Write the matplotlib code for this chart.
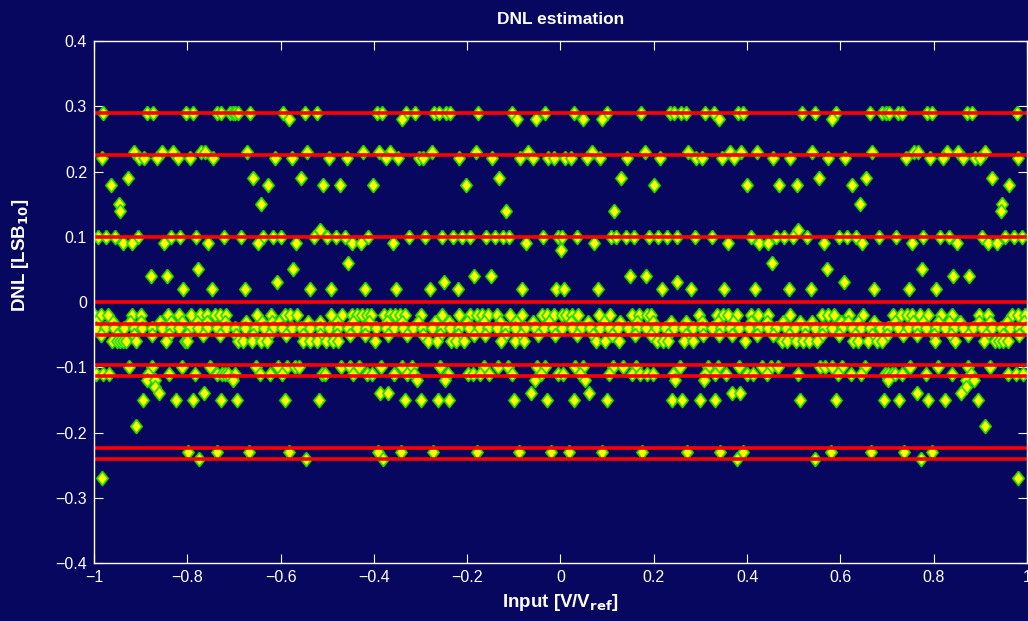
import numpy as np
import matplotlib.pyplot as plt

plt.rcParams['font.family'] = ['Liberation Sans', 'DejaVu Sans']

# x positions (V/Vref) of the codes, grouped by their estimated DNL (LSB10)
dnl_p29 = [-0.980, -0.886, -0.873, -0.802, -0.788, -0.737, -0.727, -0.709, -0.703, -0.698,
           -0.692, -0.666, -0.594, -0.548, -0.521, -0.394, -0.382, -0.332, -0.312, -0.271,
           -0.260, -0.246, -0.237, -0.176, -0.103, -0.033, 0.030, 0.100, 0.173, 0.235,
           0.244, 0.258, 0.269, 0.310, 0.329, 0.380, 0.392, 0.518, 0.546, 0.591, 0.663,
           0.690, 0.697, 0.704, 0.724, 0.733, 0.785, 0.797, 0.871, 0.883, 0.978]
dnl_p28 = [-0.583, -0.340, -0.093, -0.053, 0.049, 0.090, 0.339, 0.581]
dnl_p23 = [-0.914, -0.855, -0.830, -0.771, -0.761, -0.671, -0.543, -0.423, -0.388, -0.365,
           -0.276, -0.182, -0.069, 0.067, 0.181, 0.274, 0.363, 0.386, 0.421, 0.540, 0.668,
           0.758, 0.767, 0.828, 0.853, 0.911]
dnl_p22 = [-0.983, -0.903, -0.893, -0.864, -0.821, -0.794, -0.744, -0.612, -0.576, -0.497,
           -0.458, -0.374, -0.349, -0.303, -0.294, -0.217, -0.146, -0.087, -0.060, -0.026,
           -0.015, 0.010, 0.022, 0.057, 0.085, 0.143, 0.213, 0.290, 0.303, 0.347, 0.372,
           0.456, 0.492, 0.573, 0.610, 0.741, 0.792, 0.819, 0.863, 0.889, 0.899, 0.981]
dnl_p19 = [-0.928, -0.659, -0.557, -0.132, 0.130, 0.554, 0.655, 0.926]
dnl_p18 = [-0.964, -0.626, -0.510, -0.473, -0.401, -0.202, 0.200, 0.399, 0.469, 0.506,
           0.624, 0.962]
dnl_p15 = [-0.946, -0.643, 0.641, 0.946]
dnl_p14 = [-0.944, -0.116, 0.115, 0.944]
dnl_p11 = [-0.516, 0.510]
dnl_p10 = [-0.991, -0.974, -0.955, -0.905, -0.836, -0.816, -0.781, -0.721, -0.685, -0.637,
           -0.617, -0.599, -0.528, -0.501, -0.481, -0.463, -0.412, -0.325, -0.290, -0.253,
           -0.230, -0.212, -0.193, -0.159, -0.140, -0.123, -0.110, -0.038, -0.005, 0.003,
           0.036, 0.108, 0.120, 0.140, 0.158, 0.190, 0.210, 0.228, 0.250, 0.288, 0.324,
           0.408, 0.461, 0.479, 0.498, 0.528, 0.598, 0.615, 0.633, 0.683, 0.719, 0.778,
           0.813, 0.833, 0.904, 0.953, 0.972, 0.989]
dnl_p09 = [-0.937, -0.918, -0.851, -0.755, -0.648, -0.566, -0.446, -0.428, -0.360, -0.074,
           0.072, 0.358, 0.426, 0.444, 0.565, 0.646, 0.753, 0.849, 0.916, 0.935]
dnl_p08 = [0.0]
dnl_p06 = [-0.455, 0.453]
dnl_p05 = [-0.776, -0.574, 0.572, 0.774]
dnl_p04 = [-0.878, -0.843, -0.185, -0.150, 0.148, 0.183, 0.842, 0.876]
dnl_p03 = [-0.608, -0.250, 0.249, 0.608]
dnl_p02 = [-0.809, -0.748, -0.676, -0.538, -0.493, -0.419, -0.353, -0.280, -0.220, -0.083,
           -0.010, 0.007, 0.081, 0.218, 0.279, 0.350, 0.417, 0.489, 0.536, 0.673, 0.746,
           0.806]
dnl_m02 = [-1.000, -0.986, -0.969, -0.919, -0.899, -0.841, -0.817, -0.791, -0.773, -0.757,
           -0.741, -0.730, -0.716, -0.650, -0.621, -0.591, -0.580, -0.564, -0.492, -0.469,
           -0.448, -0.437, -0.426, -0.415, -0.407, -0.378, -0.366, -0.355, -0.344, -0.334,
           -0.298, -0.255, -0.218, -0.193, -0.178, -0.169, -0.155, -0.137, -0.108, -0.083,
           -0.040, -0.029, -0.015, 0.004, 0.012, 0.024, 0.038, 0.083, 0.106, 0.153, 0.169,
           0.185, 0.195, 0.297, 0.335, 0.349, 0.360, 0.378, 0.408, 0.424, 0.445, 0.492,
           0.560, 0.574, 0.587, 0.618, 0.648, 0.713, 0.730, 0.742, 0.754, 0.771, 0.788,
           0.816, 0.839, 0.898, 0.917, 0.967, 0.981, 0.996]
dnl_m03 = [-0.996, -0.960, -0.923, -0.900, -0.859, -0.834, -0.812, -0.780, -0.758, -0.720,
           -0.674, -0.640, -0.619, -0.603, -0.541, -0.516, -0.480, -0.445, -0.410, -0.372,
           -0.340, -0.305, -0.270, -0.238, -0.200, -0.165, -0.130, -0.095, -0.060, -0.025,
           0.022, 0.058, 0.093, 0.128, 0.163, 0.198, 0.236, 0.268, 0.303, 0.338, 0.370,
           0.408, 0.443, 0.478, 0.514, 0.539, 0.601, 0.617, 0.638, 0.672, 0.718, 0.756,
           0.778, 0.810, 0.832, 0.857, 0.898, 0.921, 0.958, 0.994]
dnl_m04 = [-0.995, -0.976, -0.957, -0.936, -0.915, -0.897, -0.876, -0.855, -0.836, -0.817,
           -0.795, -0.776, -0.757, -0.736, -0.716, -0.697, -0.676, -0.655, -0.636, -0.617,
           -0.596, -0.575, -0.556, -0.537, -0.516, -0.497, -0.476, -0.455, -0.436, -0.417,
           -0.396, -0.375, -0.356, -0.337, -0.316, -0.297, -0.276, -0.255, -0.236, -0.217,
           -0.196, -0.175, -0.156, -0.137, -0.116, -0.097, -0.076, -0.055, -0.036, -0.017,
           0.004, 0.025, 0.044, 0.063, 0.084, 0.103, 0.124, 0.145, 0.164, 0.183, 0.204,
           0.225, 0.244, 0.263, 0.284, 0.303, 0.324, 0.345, 0.364, 0.383, 0.404, 0.425,
           0.444, 0.463, 0.484, 0.503, 0.524, 0.545, 0.564, 0.583, 0.604, 0.625, 0.644,
           0.663, 0.684, 0.703, 0.724, 0.745, 0.764, 0.783, 0.804, 0.825, 0.844, 0.863,
           0.884, 0.903, 0.924, 0.945, 0.964, 0.983, 0.998]
dnl_m05 = [-0.985, -0.950, -0.915, -0.876, -0.840, -0.800, -0.766, -0.730, -0.695, -0.660,
           -0.625, -0.588, -0.552, -0.515, -0.480, -0.452, -0.419, -0.369, -0.330, -0.295,
           -0.258, -0.220, -0.185, -0.162, -0.120, -0.085, -0.048, -0.012, 0.035, 0.070,
           0.110, 0.160, 0.195, 0.230, 0.270, 0.305, 0.340, 0.367, 0.421, 0.455, 0.490,
           0.525, 0.560, 0.598, 0.632, 0.668, 0.700, 0.735, 0.764, 0.800, 0.838, 0.874,
           0.912, 0.948, 0.983]
dnl_m06 = [-0.962, -0.951, -0.944, -0.937, -0.931, -0.910, -0.846, -0.805, -0.801, -0.691,
           -0.680, -0.662, -0.641, -0.630, -0.551, -0.537, -0.523, -0.503, -0.487, -0.476,
           -0.398, -0.285, -0.265, -0.235, -0.223, -0.206, -0.128, -0.098, -0.078, 0.076,
           0.095, 0.126, 0.206, 0.220, 0.231, 0.265, 0.285, 0.395, 0.474, 0.485, 0.504,
           0.520, 0.533, 0.549, 0.628, 0.638, 0.660, 0.678, 0.689, 0.803, 0.846, 0.908,
           0.931, 0.940, 0.949, 0.960]
dnl_m10 = [-0.924, -0.876, -0.812, -0.751, -0.653, -0.605, -0.586, -0.569, -0.560, -0.471,
           -0.451, -0.433, -0.385, -0.339, -0.319, -0.258, -0.163, -0.135, -0.113, -0.051,
           -0.033, 0.031, 0.049, 0.113, 0.135, 0.162, 0.256, 0.317, 0.338, 0.383, 0.431,
           0.451, 0.467, 0.556, 0.567, 0.583, 0.603, 0.653, 0.749, 0.810, 0.873, 0.921]
dnl_m11 = [-0.996, -0.980, -0.968, -0.884, -0.839, -0.784, -0.736, -0.726, -0.719, -0.712,
           -0.698, -0.644, -0.623, -0.596, -0.512, -0.505, -0.444, -0.415, -0.405, -0.356,
           -0.330, -0.313, -0.242, -0.198, -0.188, -0.173, -0.153, -0.105, -0.042, -0.006,
           0.005, 0.042, 0.105, 0.153, 0.170, 0.186, 0.198, 0.242, 0.310, 0.331, 0.355,
           0.399, 0.413, 0.442, 0.509, 0.594, 0.623, 0.644, 0.696, 0.703, 0.710, 0.717,
           0.731, 0.783, 0.839, 0.880, 0.960, 0.976, 0.992]
dnl_m12 = [-0.887, -0.869, -0.703, -0.308, -0.248, -0.055, 0.053, 0.245, 0.308, 0.703,
           0.869, 0.886]
dnl_m13 = [-0.869, 0.869]
dnl_m14 = [-0.861, -0.764, -0.387, -0.369, -0.063, 0.062, 0.368, 0.385, 0.764, 0.859]
dnl_m15 = [-0.896, -0.825, -0.788, -0.728, -0.694, -0.591, -0.518, -0.333, -0.300, -0.262,
           -0.239, -0.100, -0.030, 0.029, 0.099, 0.238, 0.261, 0.299, 0.331, 0.514, 0.590,
           0.693, 0.726, 0.787, 0.824, 0.894]
dnl_m19 = [-0.911, 0.910]
dnl_m23 = [-0.798, -0.737, -0.667, -0.581, -0.392, -0.342, -0.273, -0.178, -0.090, -0.020,
           0.019, 0.088, 0.174, 0.271, 0.342, 0.391, 0.580, 0.666, 0.736, 0.797]
dnl_m24 = [-0.774, -0.546, -0.380, 0.378, 0.546, 0.773]
dnl_m27 = [-0.982, 0.980]

groups = [
    (0.29, dnl_p29), (0.28, dnl_p28), (0.23, dnl_p23), (0.22, dnl_p22),
    (0.19, dnl_p19), (0.18, dnl_p18), (0.15, dnl_p15), (0.14, dnl_p14),
    (0.11, dnl_p11), (0.10, dnl_p10), (0.09, dnl_p09), (0.08, dnl_p08),
    (0.06, dnl_p06), (0.05, dnl_p05), (0.04, dnl_p04), (0.03, dnl_p03),
    (0.02, dnl_p02), (-0.02, dnl_m02), (-0.03, dnl_m03), (-0.04, dnl_m04),
    (-0.05, dnl_m05), (-0.06, dnl_m06), (-0.10, dnl_m10), (-0.11, dnl_m11),
    (-0.12, dnl_m12), (-0.13, dnl_m13), (-0.14, dnl_m14), (-0.15, dnl_m15),
    (-0.19, dnl_m19), (-0.23, dnl_m23), (-0.24, dnl_m24), (-0.27, dnl_m27),
]

# reference DNL levels (red lines)
ref_levels = [0.29, 0.225, 0.099, 0.0, -0.033, -0.05, -0.097, -0.114, -0.223, -0.24]

xs = np.concatenate([np.asarray(v, float) for _, v in groups])
ys = np.concatenate([np.full(len(v), lv) for lv, v in groups])

bg = '#07075f'
fg = 'white'

fig = plt.figure(figsize=(10.28, 6.21), dpi=100, facecolor=bg)
ax = fig.add_axes([94/1028, 1 - 563/621, (1027 - 94)/1028, (563 - 41)/621])
ax.set_facecolor(bg)

diamond = [(0, 1), (0.8, 0), (0, -1), (-0.8, 0), (0, 1)]
ax.plot(xs, ys, ls='none', marker=diamond, ms=10, mfc='#ffff00', mec='#22dd00', mew=1.3)

for lv in ref_levels:
    ax.axhline(lv, color='#ff0000', lw=2.6)

ax.set_xlim(-1, 1)
ax.set_ylim(-0.4, 0.4)
ax.set_xticks(np.arange(-1, 1.01, 0.2))
ax.set_yticks(np.arange(-0.4, 0.41, 0.1))
ax.set_xticklabels(['\u22121', '\u22120.8', '\u22120.6', '\u22120.4', '\u22120.2', '0',
                    '0.2', '0.4', '0.6', '0.8', '1'])
ax.set_yticklabels(['\u22120.4', '\u22120.3', '\u22120.2', '\u22120.1', '0',
                    '0.1', '0.2', '0.3', '0.4'])
ax.tick_params(direction='in', top=True, right=True, length=6.5, width=0.8,
               colors=fg, labelsize=11.5, pad=5)
for s in ax.spines.values():
    s.set_color(fg)
    s.set_linewidth(1.0)

ax.set_title('DNL estimation', color=fg, fontsize=12.5, fontweight='bold', pad=12)
ax.set_xlabel('Input [V/V$_{\\mathbf{ref}}$]', color=fg, fontsize=13.5, fontweight='bold',
              labelpad=5)
ax.set_ylabel('DNL [LSB$_{\\mathbf{10}}$]', color=fg, fontsize=13.5, fontweight='bold')
ax.yaxis.set_label_coords(-0.068, 0.59)

fig.savefig('out.png', dpi=100, facecolor=bg)
